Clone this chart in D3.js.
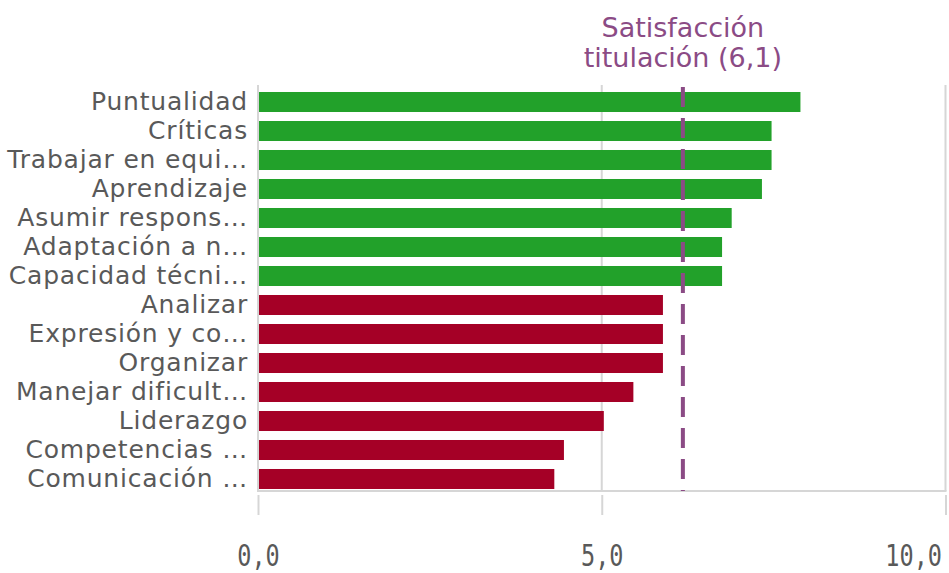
<!DOCTYPE html>
<html>
<head>
<meta charset="utf-8">
<script src="https://cdn.jsdelivr.net/npm/d3@7"></script>
<style>
  html, body { margin: 0; padding: 0; background: #fff; }
  svg { display: block; }
</style>
</head>
<body>
<div id="chart"></div>
<script>
// data
const skills = [
  "Puntualidad", "Críticas", "Trabajar en equi…", "Aprendizaje",
  "Asumir respons…", "Adaptación a n…", "Capacidad técni…",
  "Analizar", "Expresión y co…", "Organizar", "Manejar dificult…",
  "Liderazgo", "Competencias …", "Comunicación …"
];
const scores = [7.89, 7.47, 7.47, 7.33, 6.89, 6.75, 6.75, 5.89, 5.89, 5.89, 5.46, 5.03, 4.45, 4.31];
const refValue = 6.18;
const refLabel = ["Satisfacción", "titulación (6,1)"];
const xTicks = [0, 5, 10];

const W = 949, H = 573;
const green = "#22a12a", red = "#a50026", purple = "#8b4b85";
const grey = "#595959", gridGrey = "#d6d6d6";

const data = skills.map((name, i) => ({ name, value: scores[i] }));

const svg = d3.select("#chart").append("svg")
  .attr("width", W)
  .attr("height", H);

const x = d3.scaleLinear().domain([0, 10]).range([258, 945.5]);
const y = d3.scaleBand().domain(skills).range([87.5, 493.5])
  .paddingInner(0.31).paddingOuter(0.155);

const plotTop = 85, plotBottom = 491;

// grid lines
svg.append("g").selectAll("line")
  .data(xTicks)
  .join("line")
  .attr("x1", d => x(d)).attr("x2", d => x(d))
  .attr("y1", plotTop).attr("y2", plotBottom)
  .attr("stroke", gridGrey)
  .attr("stroke-width", 2);

svg.append("line")
  .attr("x1", x(0) - 1).attr("x2", x(10) + 1)
  .attr("y1", plotBottom).attr("y2", plotBottom)
  .attr("stroke", gridGrey)
  .attr("stroke-width", 2);

// bars
svg.append("g").selectAll("rect")
  .data(data)
  .join("rect")
  .attr("x", x(0) + 1)
  .attr("y", d => y(d.name))
  .attr("width", d => x(d.value) - x(0) - 1)
  .attr("height", y.bandwidth())
  .attr("fill", d => d.value >= refValue ? green : red);

// reference line
svg.append("line")
  .attr("x1", x(refValue)).attr("x2", x(refValue))
  .attr("y1", 87).attr("y2", plotBottom)
  .attr("stroke", purple)
  .attr("stroke-width", 4)
  .attr("stroke-dasharray", "20 11");

svg.append("text")
  .attr("x", x(refValue))
  .attr("text-anchor", "middle")
  .style("font-family", "'DejaVu Sans', sans-serif")
  .style("font-size", "27px")
  .attr("fill", purple)
  .selectAll("tspan")
  .data(refLabel)
  .join("tspan")
  .attr("x", x(refValue))
  .attr("y", (d, i) => 37 + i * 30)
  .text(d => d);

// category labels
const yAxis = svg.append("g")
  .attr("transform", `translate(${x(0) - 10},0)`)
  .call(d3.axisLeft(y).tickSize(0).tickPadding(0));
yAxis.select(".domain").remove();
yAxis.selectAll("text")
  .style("font-family", "'DejaVu Sans', sans-serif")
  .style("font-size", "25px")
  .style("letter-spacing", "0.8px")
  .attr("fill", grey);

// value axis (condensed mono labels, last one kept inside the frame)
const fmt = d => d3.format(".1f")(d).replace(".", ",");
const xAxis = svg.append("g")
  .attr("transform", `translate(0,${plotBottom + 4})`)
  .call(d3.axisBottom(x).tickValues(xTicks).tickFormat(fmt).tickSize(20).tickPadding(0));
xAxis.select(".domain").remove();
xAxis.selectAll(".tick line").attr("stroke", gridGrey).attr("stroke-width", 2);
xAxis.selectAll(".tick text")
  .attr("x", 0)
  .attr("y", 0)
  .attr("dy", null)
  .attr("transform", d => `translate(${d === 10 ? -4 : 0},71) scale(0.76,1)`)
  .style("font-family", "'DejaVu Sans Mono', monospace")
  .style("font-size", "31px")
  .attr("fill", grey)
  .attr("text-anchor", d => d === 10 ? "end" : "middle");
</script>
</body>
</html>
